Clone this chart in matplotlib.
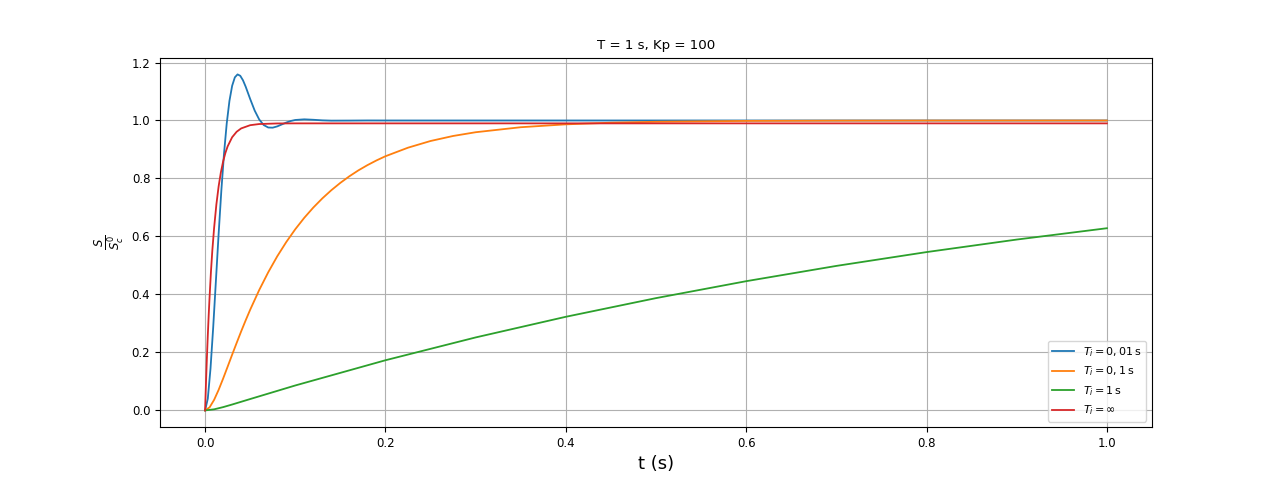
import matplotlib
matplotlib.use("Agg")
import matplotlib.pyplot as plt

# step responses (T = 1 s, Kp = 100)
t_fast = [0, 0.003, 0.006, 0.009, 0.012, 0.015, 0.018, 0.021, 0.024, 0.027,
          0.030, 0.033, 0.036, 0.039, 0.042, 0.045, 0.05, 0.055, 0.06, 0.065,
          0.07, 0.075, 0.08, 0.085, 0.09, 0.095, 0.1, 0.11, 0.12, 0.13,
          0.14, 0.16, 0.18, 0.2, 1.0]
s_ti_001 = [0, 0.0405, 0.1443, 0.2870, 0.4473, 0.6083, 0.7574, 0.8862, 0.9901, 1.0676,
            1.1197, 1.1489, 1.1590, 1.1542, 1.1388, 1.1167, 1.0741, 1.0342, 1.0035, 0.9843,
            0.9758, 0.9753, 0.9797, 0.9863, 0.9929, 0.9983, 1.0018, 1.0040, 1.0025, 1.0005,
            0.9995, 0.9997, 1.0001, 1.0000, 1.0000]

t_mid = [0, 0.005, 0.01, 0.015, 0.02, 0.025, 0.03, 0.035, 0.04, 0.045,
         0.05, 0.06, 0.07, 0.08, 0.09, 0.1, 0.11, 0.12, 0.13, 0.14,
         0.15, 0.16, 0.17, 0.18, 0.19, 0.2, 0.225, 0.25, 0.275, 0.3,
         0.35, 0.4, 0.45, 0.5, 0.6, 0.7, 0.8, 1.0]
s_ti_01 = [0, 0.0106, 0.0364, 0.0708, 0.1098, 0.1508, 0.1922, 0.2328, 0.2726, 0.3107,
           0.3473, 0.4152, 0.4764, 0.5315, 0.5807, 0.6249, 0.6644, 0.6997, 0.7313, 0.7596,
           0.7849, 0.8076, 0.8280, 0.8460, 0.8622, 0.8767, 0.9062, 0.9293, 0.9466, 0.9595,
           0.9768, 0.9867, 0.9924, 0.9956, 0.9986, 0.9995, 0.9998, 1.0000]

t_slow = [0, 0.01, 0.02, 0.03, 0.05, 0.1, 0.2, 0.3, 0.4, 0.5, 0.6, 0.7, 0.8, 0.9, 1.0]
s_ti_1 = [0, 0.0037, 0.0113, 0.0203, 0.0392, 0.0860, 0.1730, 0.2517, 0.3229, 0.3873,
          0.4457, 0.4984, 0.5461, 0.5893, 0.6284]

t_p = [0, 0.001, 0.002, 0.003, 0.004, 0.005, 0.0065, 0.008, 0.01, 0.0125,
       0.015, 0.0175, 0.02, 0.0225, 0.025, 0.03, 0.035, 0.04, 0.05, 0.06,
       0.08, 0.1, 1.0]
s_ti_inf = [0, 0.0951, 0.1811, 0.2588, 0.3290, 0.3926, 0.4784, 0.5506, 0.6295, 0.7100,
            0.7725, 0.8212, 0.8588, 0.8880, 0.9108, 0.9423, 0.9612, 0.9727, 0.9838, 0.9878,
            0.9898, 0.9901, 0.9901]

labels = [r'$T_i = 0,01\,\mathrm{s}$', r'$T_i = 0,1\,\mathrm{s}$',
          r'$T_i = 1\,\mathrm{s}$', r'$T_i = \infty$']

fig, ax = plt.subplots(figsize=(12.8, 4.8), dpi=100)
ax.plot(t_fast, s_ti_001, label=labels[0], lw=1.3)
ax.plot(t_mid, s_ti_01, label=labels[1], lw=1.3)
ax.plot(t_slow, s_ti_1, label=labels[2], lw=1.3)
ax.plot(t_p, s_ti_inf, label=labels[3], lw=1.3)

ax.set_title('T = 1 s, Kp = 100', fontsize=9.6)
ax.set_xlabel('t (s)', fontsize=13)
ax.set_ylabel(r'$\frac{S}{S_c^0}$', fontsize=12)
ax.tick_params(labelsize=8.5)
ax.grid(True)
ax.legend(loc='lower right', fontsize=8)

fig.savefig('out.png', dpi=100)
